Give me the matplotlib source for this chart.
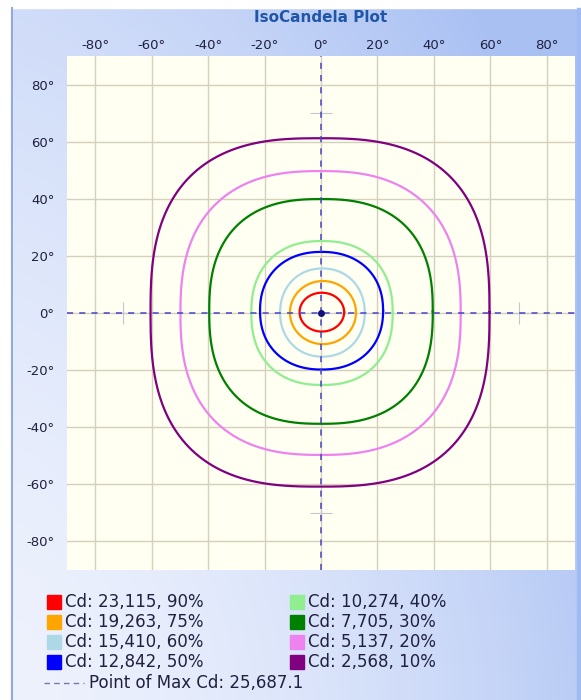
import numpy as np
import matplotlib
matplotlib.use("Agg")
import matplotlib.pyplot as plt
from matplotlib.lines import Line2D
from matplotlib.patches import Rectangle
from matplotlib.colors import to_rgb

# --- data ---------------------------------------------------------------
cd_values = [23115, 19263, 15410, 12842, 10274, 7705, 5137, 2568]
percents = [90, 75, 60, 50, 40, 30, 20, 10]
colors = ["red", "orange", "lightblue", "blue", "lightgreen", "green", "violet", "purple"]

# extents of each isocandela contour (degrees) and how square it looks
x_min = [-7.6, -11.0, -14.5, -21.6, -24.7, -39.6, -49.8, -60.4]
x_max = [8.2, 12.4, 15.5, 22.0, 25.4, 39.6, 49.5, 59.7]
y_min = [-6.5, -10.9, -15.3, -19.8, -25.2, -38.8, -49.7, -60.8]
y_max = [7.1, 11.2, 15.6, 21.4, 25.2, 39.9, 49.7, 61.2]
squareness = [2.0, 2.0, 2.1, 2.2, 2.3, 2.5, 2.5, 2.7]

max_cd = 25687.1
max_point = (0, 0)
cross_marks_x = [0, 0, -70, 70]
cross_marks_y = [70, -70, 0, 0]

ticks = [-80, -60, -40, -20, 0, 20, 40, 60, 80]

W, H = 581, 700
fig = plt.figure(figsize=(W / 100, H / 100), dpi=100)

# background panel with soft blue gradient
bg = fig.add_axes([0, 0, 1, 1])
bg.set_axis_off()
xs = np.linspace(0, 1, 300)
ys = np.linspace(1, 0, 360)
XX, YY = np.meshgrid(xs, ys)
t = np.clip(0.75 * XX ** 1.6 + 0.45 * YY ** 1.5, 0, 1)
c0 = np.array(to_rgb("#eef2fd"))
c1 = np.array(to_rgb("#a9c0f3"))
img = c0 + (c1 - c0) * t[..., None]
bg.imshow(img, extent=[0, 1, 0, 1], aspect="auto", zorder=0)
bg.set_xlim(0, 1)
bg.set_ylim(0, 1)
# white margin on top / left and panel border
bg.add_patch(Rectangle((0, 1 - 8 / H), 1, 8 / H, color="white", zorder=1))
bg.add_patch(Rectangle((0, 0), 12 / W, 1, color="white", zorder=1))
bg.plot([12 / W, 12 / W], [0, 1 - 8 / H], color="#8fa9e6", lw=1.5, zorder=2)
bg.add_patch(Rectangle((577 / W, 0), 4 / W, 1 - 8 / H, color="#a2baf2", zorder=2))

ax = fig.add_axes([67 / W, 1 - 570 / H, 508 / W, 514 / H])
ax.set_facecolor("#fffff2")
ax.set_xlim(-90, 90)
ax.set_ylim(-90, 90)
for s in ax.spines.values():
    s.set_visible(False)

ax.set_xticks(ticks)
ax.set_yticks(ticks)
ax.set_xticklabels([f"{v}°" for v in ticks])
ax.set_yticklabels([f"{v}°" for v in ticks])
ax.xaxis.tick_top()
ax.tick_params(axis="both", length=0, labelsize=9.5, labelcolor="#202040")
ax.tick_params(axis="x", pad=3)
ax.tick_params(axis="y", pad=9)
ax.grid(True, color="#d4d0ba", lw=1)
ax.set_axisbelow(True)

# isocandela contours
theta = np.linspace(0, 2 * np.pi, 721)
for i in range(len(cd_values)):
    cx = (x_min[i] + x_max[i]) / 2
    cy = (y_min[i] + y_max[i]) / 2
    a = (x_max[i] - x_min[i]) / 2
    b = (y_max[i] - y_min[i]) / 2
    e = 2 / squareness[i]
    px = cx + a * np.sign(np.cos(theta)) * np.abs(np.cos(theta)) ** e
    py = cy + b * np.sign(np.sin(theta)) * np.abs(np.sin(theta)) ** e
    ax.plot(px, py, color=colors[i], lw=1.6, zorder=3)

# crosshair through point of max candela
ax.axhline(max_point[1], color="#4444cc", lw=1.1, dashes=(4, 4), zorder=4)
ax.axvline(max_point[0], color="#4444cc", lw=1.1, dashes=(4, 4), zorder=4)
ax.plot(cross_marks_x, cross_marks_y, ls="none", marker="+", ms=16,
        mew=0.8, color="#c8c4cc", zorder=2)
ax.plot([max_point[0]], [max_point[1]], "o", ms=4, color="#10107a", zorder=5)

fig.text(321 / W, 1 - 18 / H, "IsoCandela Plot", ha="center", va="center",
         fontsize=11, fontweight="bold", color="#1f56a8")

# legend drawn in figure coordinates
row_y = [602, 622, 642, 662]
col_x = [47, 290]
for i in range(len(cd_values)):
    col, row = divmod(i, 4)
    y = row_y[row]
    fig.add_artist(Rectangle((col_x[col] / W, 1 - (y + 7) / H), 14 / W, 14 / H,
                             transform=fig.transFigure, color=colors[i]))
    fig.text((col_x[col] + 18) / W, 1 - y / H, f"Cd: {cd_values[i]:,}, {percents[i]}%",
             ha="left", va="center", fontsize=12, color="#202040")

fig.add_artist(Line2D([44 / W, 84 / W], [1 - 683 / H, 1 - 683 / H],
                      transform=fig.transFigure, color="#7878b0", lw=1, dashes=(4, 3)))
fig.text(89 / W, 1 - 683 / H, f"Point of Max Cd: {max_cd:,.1f}", ha="left",
         va="center", fontsize=12, color="#202040")

fig.savefig("out.png", dpi=100)
